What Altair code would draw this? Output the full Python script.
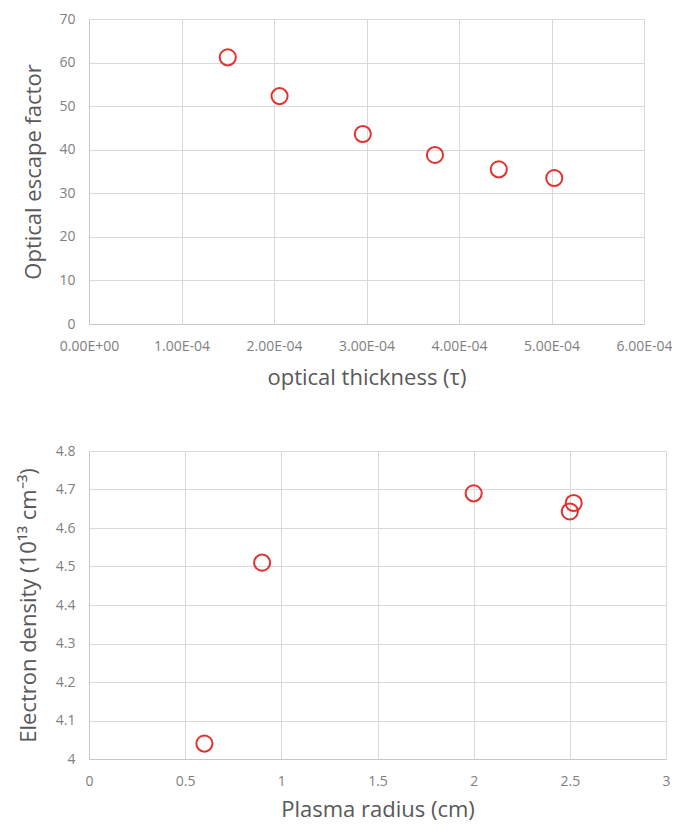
import altair as alt
import pandas as pd

# Top panel data
tau = [1.50e-4, 2.06e-4, 2.96e-4, 3.74e-4, 4.43e-4, 5.03e-4]
escape = [61.2, 52.3, 43.6, 38.8, 35.5, 33.5]

# Bottom panel data
radius = [0.6, 0.9, 2.0, 2.52, 2.5]
density = [4.04, 4.51, 4.69, 4.665, 4.643]

x_ticks_top = [0, 1e-4, 2e-4, 3e-4, 4e-4, 5e-4, 6e-4]
y_ticks_top = [0, 10, 20, 30, 40, 50, 60, 70]
x_ticks_bot = [0, 0.5, 1, 1.5, 2, 2.5, 3]
y_ticks_bot = [4.0, 4.1, 4.2, 4.3, 4.4, 4.5, 4.6, 4.7, 4.8]

df_top = pd.DataFrame({"tau": tau, "escape": escape})
df_bot = pd.DataFrame({"radius": radius, "density": density})

RED = "#e2312f"
FONT = "Open Sans"

def axis(values, title, label_expr=None, pad=14, title_pad=10):
    kw = dict(
        values=values, title=title, grid=True, gridColor="#d9d9d9", gridWidth=1,
        domainColor="#c8c8c8", ticks=False, labelFont=FONT, labelFontSize=14,
        labelColor="#808080", titleFont=FONT, titleFontSize=22, titleFontWeight="normal",
        titleColor="#595959", labelPadding=pad, titlePadding=title_pad,
        labelFlush=False, labelOverlap=False,
    )
    if label_expr:
        kw["labelExpr"] = label_expr
    return alt.Axis(**kw)

top = alt.Chart(df_top).mark_point(
    shape="circle", filled=False, color=RED, size=260, strokeWidth=2, opacity=1
).encode(
    x=alt.X("tau:Q", scale=alt.Scale(domain=[0, 6e-4], nice=False),
            axis=axis(x_ticks_top, "optical thickness (τ)",
                      "datum.value == 0 ? '0.00E+00' : replace(format(datum.value, '.2e'), 'e-', 'E-0')",
                      pad=15, title_pad=14)),
    y=alt.Y("escape:Q", scale=alt.Scale(domain=[0, 70], nice=False),
            axis=axis(y_ticks_top, "Optical escape factor", pad=14, title_pad=13)),
).properties(width=555, height=305)

bot = alt.Chart(df_bot).mark_point(
    shape="circle", filled=False, color=RED, size=260, strokeWidth=2, opacity=1
).encode(
    x=alt.X("radius:Q", scale=alt.Scale(domain=[0, 3], nice=False),
            axis=axis(x_ticks_bot, "Plasma radius (cm)", "format(datum.value, '~g')",
                      pad=15, title_pad=11)),
    y=alt.Y("density:Q", scale=alt.Scale(domain=[4, 4.8], nice=False, zero=False),
            axis=axis(y_ticks_bot, "Electron density (10¹³ cm⁻³)", "format(datum.value, '~g')",
                      pad=14, title_pad=15)),
).properties(width=577, height=308)

chart = alt.vconcat(top, bot, spacing=56).properties(
    padding={"left": 9, "top": 4, "right": 0, "bottom": 8}
).configure_view(stroke=None)

chart.save("out.html", embed_options={"renderer": "svg", "actions": False})
